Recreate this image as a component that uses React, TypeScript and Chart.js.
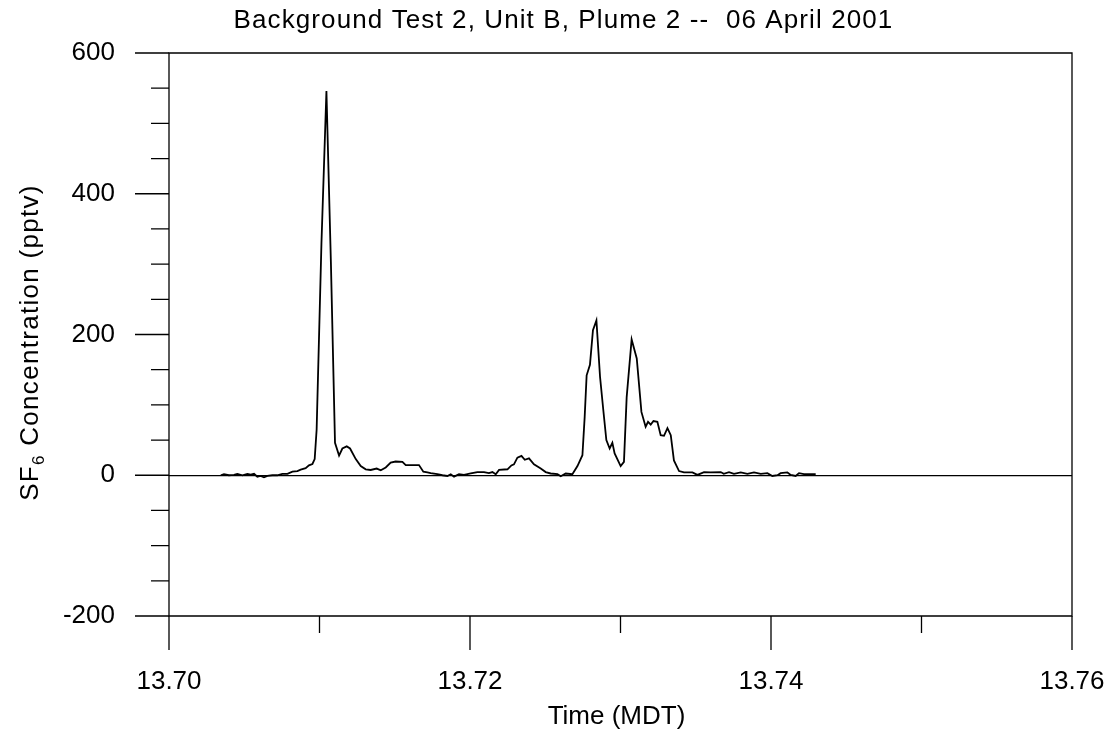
import { useEffect, useRef } from 'react';
import { Chart, registerables } from 'chart.js';

Chart.register(...registerables);

const TITLE = 'Background Test 2, Unit B, Plume 2 --  06 April 2001';
const X_TITLE = 'Time (MDT)';
const Y_TITLE_MAIN = 'SF';
const Y_TITLE_SUB = '6';
const Y_TITLE_REST = ' Concentration (pptv)';

const X_MIN = 13.7;
const X_MAX = 13.76;
const X_STEP = 0.01;
const Y_MIN = -200;
const Y_MAX = 600;
const Y_STEP = 50;
const Y_LABEL_EVERY = 200;

const timeMDT = [
  13.70344, 13.70365, 13.70398, 13.70432, 13.70454, 13.70488, 13.70521, 13.70543, 13.70565, 13.70587,
  13.70609, 13.70631, 13.70654, 13.70687, 13.7072, 13.70753, 13.70787, 13.7082, 13.70853, 13.70875,
  13.70908, 13.7093, 13.70953, 13.70968, 13.70981, 13.71013, 13.71046, 13.71076, 13.71103, 13.7113,
  13.71152, 13.71181, 13.71203, 13.71241, 13.71274, 13.71307, 13.7134, 13.7138, 13.71407, 13.7144,
  13.71473, 13.71506, 13.71551, 13.71573, 13.71661, 13.7169, 13.71717, 13.71739, 13.71783, 13.71817,
  13.7185, 13.71872, 13.71894, 13.71927, 13.7196, 13.72005, 13.72049, 13.72093, 13.72126, 13.72149,
  13.72171, 13.72193, 13.72249, 13.72275, 13.72292, 13.72315, 13.72342, 13.72364, 13.72392, 13.72425,
  13.7247, 13.72503, 13.72536, 13.72581, 13.72603, 13.72636, 13.7268, 13.72714, 13.72747, 13.72762,
  13.72775, 13.72797, 13.72817, 13.7284, 13.72864, 13.72886, 13.72906, 13.72928, 13.72946, 13.72961,
  13.73001, 13.73023, 13.73041, 13.73074, 13.73108, 13.73139, 13.73167, 13.73183, 13.73201, 13.73219,
  13.73245, 13.73267, 13.73289, 13.73312, 13.73334, 13.73355, 13.73389, 13.73422, 13.73478, 13.73511,
  13.73555, 13.73599, 13.73666, 13.73686, 13.73721, 13.73754, 13.73799, 13.73843, 13.73887, 13.73932,
  13.73976, 13.74009, 13.74043, 13.74064, 13.74109, 13.74131, 13.74164, 13.74186, 13.74219, 13.74251,
  13.74286, 13.74297,
];

const sf6 = [
  0, 1.5, 0, 0.5, 2, 0, 2, 1, 2, -2,
  -1, -3, -1, 0, 0, 2, 2, 5, 6, 8,
  10, 14, 16, 23, 65, 330, 546, 300, 46, 28,
  38, 41, 38, 23, 13, 8.5, 7.5, 9.5, 7, 11,
  18, 19.5, 19, 14.5, 14.5, 5, 4, 3, 1.5, 0,
  -1, 1.5, -2, 1.5, 0.5, 2.5, 4.5, 4.5, 3, 4.5,
  1.5, 7.5, 8.5, 14, 15.5, 25, 27.5, 22, 24, 15.5,
  9.5, 4.5, 2.5, 1.5, -1.5, 2.5, 1.5, 13, 28.5, 83,
  142, 157, 206, 220, 140, 92, 50, 38, 46, 31,
  13, 19, 111, 193, 166, 90, 69, 76, 72, 77,
  76, 57, 56, 67, 57, 21, 6, 4, 4, 0.5,
  4.5, 4, 4.5, 2, 4.5, 2, 4, 2, 4, 2,
  3, -1, 0, 3, 4, 0.5, -1, 3, 1.5, 1.5,
  1.5, 1.5,
];

const FONT_FAMILY = '"Liberation Sans", Arial, sans-serif';
const FONT_SIZE = 26;

const isMajorX = (v: number) => Math.round(v * 100) % 2 === 0;
const isMajorY = (v: number) => Math.round(v) % Y_LABEL_EVERY === 0;

const framePlugin = {
  id: 'frameAndTitles',
  afterDraw(chart: any) {
    const { ctx, chartArea } = chart;
    const { left, right, top, bottom } = chartArea;
    const xs = chart.scales.x;
    const ys = chart.scales.y;
    ctx.save();
    ctx.strokeStyle = '#000';
    ctx.lineWidth = 1.3;
    ctx.beginPath();
    ctx.rect(left, top, right - left, bottom - top);
    ctx.stroke();
    ctx.beginPath();
    ys.ticks.forEach((t: any) => {
      const p = ys.getPixelForValue(t.value);
      const len = isMajorY(t.value) ? 34 : 18;
      ctx.moveTo(left - len, p);
      ctx.lineTo(left, p);
    });
    xs.ticks.forEach((t: any) => {
      const p = xs.getPixelForValue(t.value);
      const len = isMajorX(t.value) ? 34 : 17;
      ctx.moveTo(p, bottom);
      ctx.lineTo(p, bottom + len);
    });
    ctx.stroke();

    ctx.fillStyle = '#000';
    ctx.font = `${FONT_SIZE}px ${FONT_FAMILY}`;
    (ctx as any).letterSpacing = '1.1px';
    ctx.textAlign = 'center';
    ctx.textBaseline = 'alphabetic';
    ctx.fillText(TITLE, chart.width / 2 + 6, 28);

    (ctx as any).letterSpacing = '0px';
    ctx.fillText(X_TITLE, (left + right) / 2 - 4, 724);

    (ctx as any).letterSpacing = '1.3px';
    ctx.textAlign = 'left';
    const mainFont = `${FONT_SIZE}px ${FONT_FAMILY}`;
    const subFont = `${Math.round(FONT_SIZE * 0.65)}px ${FONT_FAMILY}`;
    ctx.font = mainFont;
    const w1 = ctx.measureText(Y_TITLE_MAIN).width;
    const w3 = ctx.measureText(Y_TITLE_REST).width;
    ctx.font = subFont;
    const w2 = ctx.measureText(Y_TITLE_SUB).width;
    const total = w1 + w2 + w3;
    const cy = (top + bottom) / 2 + 8;
    ctx.translate(38, cy + total / 2);
    ctx.rotate(-Math.PI / 2);
    ctx.font = mainFont;
    ctx.fillText(Y_TITLE_MAIN, 0, 0);
    ctx.font = subFont;
    ctx.fillText(Y_TITLE_SUB, w1, 6);
    ctx.font = mainFont;
    ctx.fillText(Y_TITLE_REST, w1 + w2, 0);
    ctx.restore();
  },
};

export default function App() {
  const canvasRef = useRef<HTMLCanvasElement | null>(null);

  useEffect(() => {
    document.body.style.margin = '0';
    const canvas = canvasRef.current;
    if (!canvas) return;
    const points = timeMDT.map((t, i) => ({ x: t, y: sf6[i] }));
    const chart = new Chart(canvas, {
      type: 'line',
      data: {
        datasets: [
          {
            data: points,
            borderColor: '#000',
            borderWidth: 1.8,
            pointRadius: 0,
            tension: 0,
            fill: false,
          },
        ],
      },
      options: {
        animation: false,
        responsive: false,
        maintainAspectRatio: false,
        devicePixelRatio: 1,
        layout: { padding: { top: 53, right: 43, bottom: 0, left: 0 } },
        plugins: {
          legend: { display: false },
          title: { display: false },
          tooltip: { enabled: false },
        },
        scales: {
          x: {
            type: 'linear',
            min: X_MIN,
            max: X_MAX,
            afterFit: (scale: any) => {
              scale.height = 113;
            },
            border: { display: false },
            grid: {
              display: true,
              drawOnChartArea: false,
              drawTicks: true,
              tickLength: 50,
              color: 'rgba(0,0,0,0)',
              tickColor: 'rgba(0,0,0,0)',
            },
            ticks: {
              stepSize: X_STEP,
              autoSkip: false,
              maxRotation: 0,
              padding: 0,
              color: '#000',
              font: { family: FONT_FAMILY, size: FONT_SIZE },
              callback: (v: any) => (isMajorX(Number(v)) ? Number(v).toFixed(2) : ''),
            },
          },
          y: {
            min: Y_MIN,
            max: Y_MAX,
            afterFit: (scale: any) => {
              scale.width = 169;
            },
            border: { display: false },
            grid: {
              drawTicks: true,
              tickLength: 54,
              tickColor: 'rgba(0,0,0,0)',
              lineWidth: 1.3,
              color: (c: any) => (c.tick && Math.round(c.tick.value) === 0 ? '#000' : 'rgba(0,0,0,0)'),
            },
            ticks: {
              stepSize: Y_STEP,
              autoSkip: false,
              padding: 0,
              color: '#000',
              font: { family: FONT_FAMILY, size: FONT_SIZE },
              callback: (v: any) => (isMajorY(Number(v)) ? String(Math.round(Number(v))) : ''),
            },
          },
        },
      },
      plugins: [framePlugin],
    });
    return () => chart.destroy();
  }, []);

  return (
    <div style={{ position: 'absolute', left: 0, top: 0, width: 1115, height: 729 }}>
      <canvas ref={canvasRef} width={1115} height={729} style={{ width: 1115, height: 729 }} />
    </div>
  );
}
